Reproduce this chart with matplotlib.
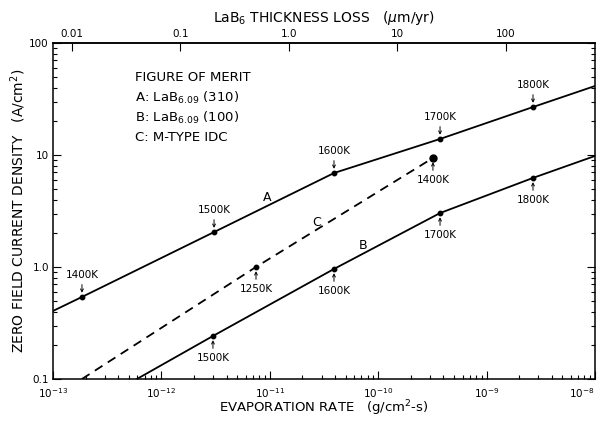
import numpy as np
import matplotlib
matplotlib.use('Agg')
import matplotlib.pyplot as plt

# evaporation rate (g/cm^2-s) and zero field current density (A/cm^2)
rate_a = [1e-13, 1.85e-13, 3.06e-12, 3.91e-11, 3.72e-10, 2.68e-9, 1e-8]
jo_a = [0.405, 0.54, 2.05, 6.9, 13.9, 26.8, 41.3]
temps_a = ['', '1400K', '1500K', '1600K', '1700K', '1800K', '']

rate_b = [5.95e-13, 2.99e-12, 3.91e-11, 3.72e-10, 2.68e-9, 1e-8]
jo_b = [0.1, 0.242, 0.96, 3.03, 6.24, 9.8]
temps_b = ['', '1500K', '1600K', '1700K', '1800K', '']

rate_c = [1.85e-13, 7.46e-12, 3.2e-10]
jo_c = [0.1, 1.0, 9.4]
temps_c = ['', '1250K', '1400K']

bottom_ticks = [1e-13, 1e-12, 1e-11, 1e-10, 1e-9, 1e-8]
bottom_labels = [r'$10^{-13}$', r'$10^{-12}$', r'$10^{-11}$', r'$10^{-10}$', r'$10^{-9}$', r'$10^{-8}$']
left_ticks = [0.1, 1.0, 10, 100]
left_labels = ['0.1', '1.0', '10', '100']
top_ticks = [0.01, 0.1, 1.0, 10, 100]
top_labels = ['0.01', '0.1', '1.0', '10', '100']

# g/cm^2-s -> um/yr for LaB6
LAB6_DENSITY = 4.72
SEC_PER_YEAR = 3.156e7
K_LOSS = SEC_PER_YEAR * 1e4 / LAB6_DENSITY


def to_loss(r):
    return r * K_LOSS


def to_rate(t):
    return t / K_LOSS


plt.rcParams['font.family'] = 'DejaVu Sans'
plt.rcParams['mathtext.fontset'] = 'dejavusans'

fig = plt.figure(figsize=(6.03, 4.21), dpi=100)
ax = fig.add_axes([0.0879, 0.0998, 0.8988, 0.7981])
ax.set_xscale('log')
ax.set_yscale('log')
ax.set_xlim(1e-13, 1e-8)
ax.set_ylim(0.1, 100)

LW = 1.3
ax.plot(rate_a, jo_a, color='k', lw=LW)
ax.plot(rate_b, jo_b, color='k', lw=LW)
ax.plot(rate_c, jo_c, color='k', lw=LW, linestyle=(0, (5, 3.5)))


def mark(rates, jos, temps, up, big=()):
    for r, j, t in zip(rates, jos, temps):
        if not t:
            continue
        ms = 5 if t in big else 3.2
        ax.plot([r], [j], 'o', color='k', ms=ms)
        dy = 16 if up else -16
        ax.annotate(t, xy=(r, j), xytext=(0, dy), textcoords='offset points',
                    ha='center', va='center', fontsize=7.5,
                    arrowprops=dict(arrowstyle='->', lw=0.7, color='k',
                                    mutation_scale=5, shrinkA=1.5, shrinkB=3))


mark(rate_a, jo_a, temps_a, up=True)
mark(rate_b, jo_b, temps_b, up=False)
mark(rate_c, jo_c, temps_c, up=False, big=('1400K',))

# curve letters
ax.text(9.4e-12, 4.2, 'A', fontsize=9, ha='center', va='center')
ax.text(2.72e-11, 2.52, 'C', fontsize=9, ha='center', va='center')
ax.text(7.24e-11, 1.54, 'B', fontsize=9, ha='center', va='center')

# figure of merit key
key = ['FIGURE OF MERIT',
       r'A: LaB$_{6.09}$ (310)',
       r'B: LaB$_{6.09}$ (100)',
       'C: M-TYPE IDC']
for i, s in enumerate(key):
    ax.text(0.151, 0.896 - i * 0.0595, s, transform=ax.transAxes,
            fontsize=9.5, ha='left', va='center')

ax.set_xticks(bottom_ticks)
ax.set_xticklabels(bottom_labels)
ax.set_yticks(left_ticks)
ax.set_yticklabels(left_labels)
ax.tick_params(which='both', direction='in', top=False, right=True,
               labelsize=7.5, width=0.8)
ax.tick_params(which='major', length=6)
ax.tick_params(which='minor', length=3)
ax.tick_params(axis='x', pad=5)
ax.tick_params(axis='y', pad=3)
for sp in ax.spines.values():
    sp.set_linewidth(1.1)
# last decade label sits on the right edge; pull it in a little
ax.get_xticklabels()[-1].set_horizontalalignment('right')

ax.set_xlabel(r'EVAPORATION RATE   (g/cm$^2$-s)', fontsize=9.5, labelpad=-1)
ax.set_ylabel(r'ZERO FIELD CURRENT DENSITY   (A/cm$^2$)', fontsize=10, labelpad=1)

sec = ax.secondary_xaxis('top', functions=(to_loss, to_rate))
sec.set_xticks(top_ticks)
sec.set_xticklabels(top_labels)
sec.xaxis.set_minor_locator(matplotlib.ticker.NullLocator())
sec.tick_params(direction='in', length=6, width=0.8, labelsize=7.5, pad=3)
sec.spines['top'].set_linewidth(1.1)
sec.set_xlabel(r'LaB$_6$ THICKNESS LOSS   ($\mu$m/yr)', fontsize=10, labelpad=5)

plt.savefig('out.png', dpi=100)
